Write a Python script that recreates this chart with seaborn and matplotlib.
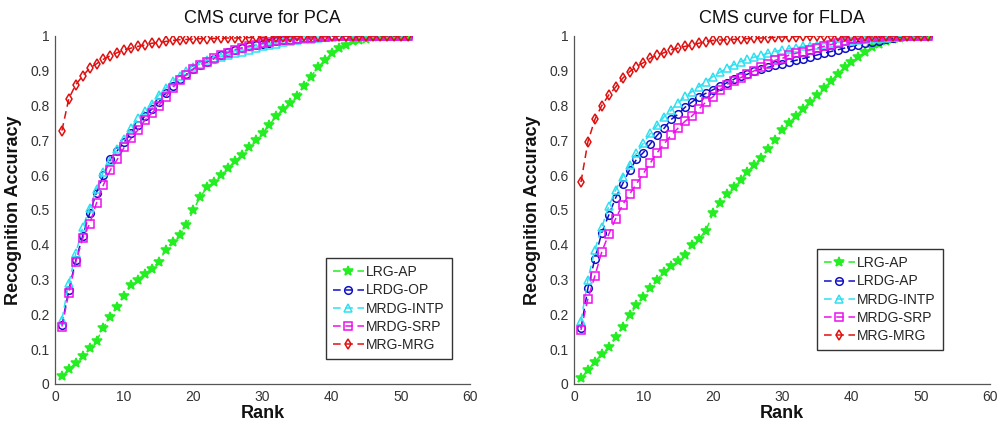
import numpy as np
import pandas as pd
import seaborn as sns
import matplotlib.pyplot as plt

sns.set_style('white')
plt.rcParams['font.family'] = ['Liberation Sans', 'DejaVu Sans']

# Rank 1..51
ranks = list(range(1, 52))

# CMS curve for PCA
pca_lrg_ap = [0.022, 0.042, 0.061, 0.08, 0.104, 0.124, 0.162, 0.193, 0.22, 0.254,
              0.283, 0.30, 0.317, 0.331, 0.35, 0.386, 0.409, 0.428, 0.457, 0.50,
              0.538, 0.565, 0.58, 0.60, 0.62, 0.64, 0.658, 0.68, 0.70, 0.72,
              0.745, 0.77, 0.79, 0.807, 0.826, 0.855, 0.883, 0.91, 0.93, 0.95,
              0.965, 0.975, 0.984, 0.987, 0.99, 0.996, 1.0, 1.0, 1.0, 1.0, 1.0]
pca_lrdg_op = [0.17, 0.27, 0.355, 0.425, 0.49, 0.55, 0.60, 0.645, 0.67, 0.695,
               0.72, 0.745, 0.77, 0.79, 0.81, 0.835, 0.855, 0.875, 0.89, 0.905,
               0.915, 0.925, 0.935, 0.945, 0.955, 0.96, 0.965, 0.97, 0.975, 0.978,
               0.981, 0.984, 0.987, 0.989, 0.991, 0.993, 0.995, 0.997, 0.998, 0.999,
               1.0, 1.0, 1.0, 1.0, 1.0, 1.0, 1.0, 1.0, 1.0, 1.0, 1.0]
pca_mrdg_intp = [0.185, 0.29, 0.375, 0.45, 0.505, 0.56, 0.61, 0.64, 0.675, 0.705,
                 0.735, 0.765, 0.785, 0.805, 0.83, 0.85, 0.87, 0.885, 0.90, 0.91,
                 0.92, 0.93, 0.935, 0.94, 0.945, 0.95, 0.955, 0.96, 0.965, 0.97,
                 0.974, 0.978, 0.982, 0.985, 0.988, 0.99, 0.992, 0.994, 0.996, 0.998,
                 1.0, 1.0, 1.0, 1.0, 1.0, 1.0, 1.0, 1.0, 1.0, 1.0, 1.0]
pca_mrdg_srp = [0.165, 0.262, 0.35, 0.418, 0.46, 0.52, 0.572, 0.615, 0.645, 0.68,
                0.706, 0.73, 0.758, 0.778, 0.80, 0.825, 0.85, 0.874, 0.888, 0.905,
                0.917, 0.926, 0.936, 0.945, 0.952, 0.96, 0.965, 0.97, 0.974, 0.979,
                0.982, 0.985, 0.987, 0.989, 0.991, 0.993, 0.995, 0.997, 0.998, 0.999,
                1.0, 1.0, 1.0, 1.0, 1.0, 1.0, 1.0, 1.0, 1.0, 1.0, 1.0]
pca_mrg_mrg = [0.728, 0.82, 0.86, 0.885, 0.907, 0.92, 0.933, 0.943, 0.952, 0.96,
               0.965, 0.97, 0.974, 0.979, 0.981, 0.984, 0.987, 0.989, 0.99, 0.991,
               0.992, 0.992, 0.993, 0.993, 0.994, 0.994, 0.995, 0.995, 0.996, 0.996,
               0.997, 0.997, 0.998, 0.998, 0.999, 0.999, 1.0, 1.0, 1.0, 1.0,
               1.0, 1.0, 1.0, 1.0, 1.0, 1.0, 1.0, 1.0, 1.0, 1.0, 1.0]

# CMS curve for FLDA
flda_lrg_ap = [0.016, 0.04, 0.064, 0.085, 0.105, 0.134, 0.165, 0.197, 0.226, 0.25,
               0.275, 0.30, 0.323, 0.338, 0.352, 0.372, 0.40, 0.417, 0.44, 0.49,
               0.52, 0.545, 0.565, 0.585, 0.61, 0.63, 0.65, 0.675, 0.70, 0.73,
               0.75, 0.77, 0.79, 0.81, 0.83, 0.85, 0.87, 0.89, 0.91, 0.925,
               0.94, 0.955, 0.967, 0.977, 0.985, 0.99, 0.995, 1.0, 1.0, 1.0, 1.0]
flda_lrdg_ap = [0.16, 0.275, 0.36, 0.435, 0.485, 0.535, 0.575, 0.615, 0.645, 0.665,
                0.69, 0.715, 0.735, 0.76, 0.775, 0.795, 0.81, 0.825, 0.835, 0.845,
                0.855, 0.865, 0.875, 0.885, 0.89, 0.90, 0.905, 0.91, 0.915, 0.92,
                0.925, 0.93, 0.935, 0.94, 0.945, 0.95, 0.955, 0.96, 0.965, 0.97,
                0.975, 0.98, 0.983, 0.986, 0.99, 0.993, 0.996, 1.0, 1.0, 1.0, 1.0]
flda_mrdg_intp = [0.18, 0.30, 0.385, 0.45, 0.51, 0.557, 0.596, 0.63, 0.663, 0.692,
                  0.72, 0.744, 0.768, 0.787, 0.807, 0.826, 0.84, 0.854, 0.869, 0.883,
                  0.895, 0.907, 0.917, 0.926, 0.933, 0.939, 0.945, 0.95, 0.955, 0.96,
                  0.963, 0.966, 0.97, 0.972, 0.975, 0.978, 0.98, 0.982, 0.984, 0.986,
                  0.988, 0.99, 0.992, 0.994, 0.995, 0.997, 0.998, 1.0, 1.0, 1.0, 1.0]
flda_mrdg_srp = [0.155, 0.245, 0.31, 0.38, 0.43, 0.475, 0.515, 0.545, 0.575, 0.605,
                 0.635, 0.665, 0.69, 0.715, 0.735, 0.755, 0.77, 0.79, 0.81, 0.825,
                 0.845, 0.86, 0.87, 0.88, 0.89, 0.90, 0.91, 0.92, 0.93, 0.935,
                 0.945, 0.95, 0.955, 0.96, 0.965, 0.97, 0.975, 0.98, 0.985, 0.99,
                 0.992, 0.994, 0.996, 0.998, 1.0, 1.0, 1.0, 1.0, 1.0, 1.0, 1.0]
flda_mrg_mrg = [0.58, 0.696, 0.76, 0.80, 0.83, 0.853, 0.878, 0.897, 0.912, 0.923,
                0.936, 0.945, 0.952, 0.96, 0.965, 0.97, 0.974, 0.979, 0.983, 0.987,
                0.988, 0.989, 0.99, 0.991, 0.992, 0.993, 0.994, 0.995, 0.996, 0.997,
                0.998, 0.998, 0.999, 0.999, 1.0, 1.0, 1.0, 1.0, 1.0, 1.0,
                1.0, 1.0, 1.0, 1.0, 1.0, 1.0, 1.0, 1.0, 1.0, 1.0, 1.0]

pca_labels = ['LRG-AP', 'LRDG-OP', 'MRDG-INTP', 'MRDG-SRP', 'MRG-MRG']
flda_labels = ['LRG-AP', 'LRDG-AP', 'MRDG-INTP', 'MRDG-SRP', 'MRG-MRG']

# estilo de cada curva (cor, marcador)
cores = ['#22ee22', '#1010c8', '#30e0f0', '#ee10ee', '#e01010']
marcadores = ['*', 'o', '^', 's', 'd']

fig = plt.figure(figsize=(9.98, 4.25), dpi=100)
ax1 = fig.add_axes([0.0551, 0.0965, 0.416, 0.819])
ax2 = fig.add_axes([0.5752, 0.0965, 0.417, 0.819])

paineis = [
    (ax1, 'CMS curve for PCA', pca_labels,
     [pca_lrg_ap, pca_lrdg_op, pca_mrdg_intp, pca_mrdg_srp, pca_mrg_mrg], (0.653, 0.072)),
    (ax2, 'CMS curve for FLDA', flda_labels,
     [flda_lrg_ap, flda_lrdg_ap, flda_mrdg_intp, flda_mrdg_srp, flda_mrg_mrg], (0.584, 0.098)),
]

for ax, titulo, labels, series, leg_pos in paineis:
    for vals, lab, cor, mk in zip(series, labels, cores, marcadores):
        df = pd.DataFrame({'Rank': ranks, 'Acc': vals})
        sns.lineplot(data=df, x='Rank', y='Acc', ax=ax, color=cor, marker=mk,
                     linestyle=(0, (5, 3)), linewidth=1.1, markersize=5.5 if mk != '*' else 7,
                     markerfacecolor='none' if mk != '*' else cor,
                     markeredgecolor=cor, markeredgewidth=1.1, label=lab)

    ax.set_xlim(0, 60)
    ax.set_ylim(0, 1)
    ax.set_xticks(np.arange(0, 61, 10))
    ax.set_yticks(np.arange(0, 1.01, 0.1))
    ax.set_yticklabels(['0', '0.1', '0.2', '0.3', '0.4', '0.5', '0.6', '0.7', '0.8', '0.9', '1'])
    ax.tick_params(direction='in', length=4, width=0.8, colors='#555555',
                   labelsize=10, labelcolor='#333333', pad=4)
    ax.spines['top'].set_visible(False)
    ax.spines['right'].set_visible(False)
    for s in ['left', 'bottom']:
        ax.spines[s].set_color('#555555')
        ax.spines[s].set_linewidth(0.9)
    ax.set_title(titulo, fontsize=13, pad=9, color='#111111')
    ax.set_xlabel('Rank', fontsize=13, fontweight='bold', labelpad=1, color='#111111')
    ax.set_ylabel('Recognition Accuracy', fontsize=13, fontweight='bold', labelpad=6, color='#111111')
    ax.legend(loc='lower left', bbox_to_anchor=leg_pos, fontsize=10, fancybox=False,
              edgecolor='#333333', framealpha=1, labelspacing=0.3, handlelength=2.2,
              handletextpad=0.2, borderpad=0.5, borderaxespad=0)

fig.savefig('out.png', dpi=100)
